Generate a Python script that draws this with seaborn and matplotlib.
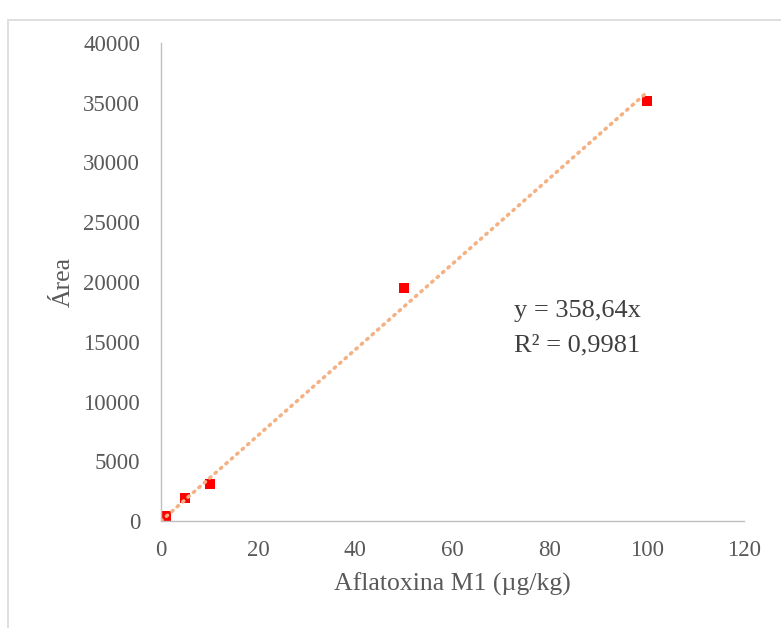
import matplotlib
matplotlib.use("Agg")
import matplotlib.pyplot as plt
import seaborn as sns
import numpy as np
import pandas as pd
from matplotlib.patches import Rectangle

conc = [1, 5, 10, 50, 100]
area = [420, 1920, 3100, 19470, 35150]
slope = 358.64
r2_text = "R² = 0,9981"
eq_text = "y = 358,64x"
x_ticks = [0, 20, 40, 60, 80, 100, 120]
y_ticks = [0, 5000, 10000, 15000, 20000, 25000, 30000, 35000, 40000]

sns.set_style("white")
plt.rcParams['font.family'] = ['Liberation Serif', 'DejaVu Serif']

W, H = 781, 628
fig = plt.figure(figsize=(W/100, H/100), dpi=100)
ax = fig.add_axes([161/W, 1-521/H, (744-161)/W, (521-43)/H])

df = pd.DataFrame({"x": conc, "y": area})
trend_x = np.array([0, 100])
trend = pd.DataFrame({"x": trend_x, "y": slope*trend_x})

sns.lineplot(data=trend, x="x", y="y", ax=ax, color="#F4B183", lw=2.6,
             linestyle=(0, (0.4, 1.6)), dash_capstyle="round", zorder=3)
sns.scatterplot(data=df, x="x", y="y", ax=ax, marker="s", s=60, color="#FF0000",
                edgecolor="#FF0000", linewidth=0, zorder=2)

ax.set_xlim(0, 120)
ax.set_ylim(0, 40000)
ax.set_xticks(x_ticks)
ax.set_yticks(y_ticks)
gray = "#595959"
ax.tick_params(axis="both", labelsize=16.5, colors=gray, length=5, width=1,
               color="#BFBFBF", direction="out")
ax.tick_params(axis="x", pad=9)
ax.tick_params(axis="y", pad=10)
for s in ["top", "right"]:
    ax.spines[s].set_visible(False)
for s in ["left", "bottom"]:
    ax.spines[s].set_color("#BFBFBF")
    ax.spines[s].set_linewidth(1)
ax.set_xlabel("Aflatoxina M1 (µg/kg)", fontsize=18.5, color=gray, labelpad=8)
ax.set_ylabel("Área", fontsize=18.5, color=gray, labelpad=6)

fig.text(514/W, 1-317/H, eq_text, fontsize=19, color="#404040", ha="left", va="baseline")
fig.text(514/W, 1-351/H, r2_text, fontsize=19, color="#404040", ha="left", va="baseline")

fig.patches.append(Rectangle((8/W, -0.1), 1.2, 1-20/H+0.1, transform=fig.transFigure,
                             fill=False, edgecolor="#D9D9D9", lw=1.2))

fig.savefig("out.png", dpi=100)
